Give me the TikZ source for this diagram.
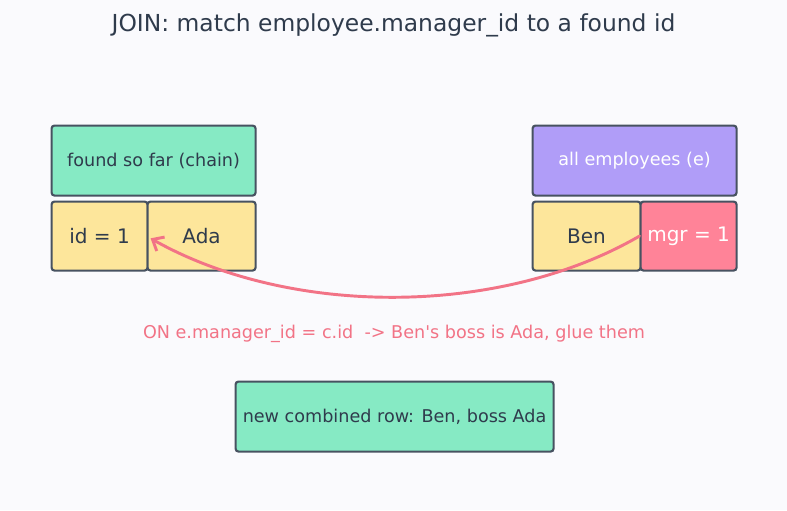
\documentclass[tikz,border=0pt]{standalone}
\usepackage{fontspec}
\setmainfont{DejaVu Sans}
\usetikzlibrary{arrows.meta}
\definecolor{bgc}{HTML}{FAFAFD}
\definecolor{mint}{HTML}{86EAC4}
\definecolor{sand}{HTML}{FDE69B}
\definecolor{lav}{HTML}{B09DF8}
\definecolor{pinkc}{HTML}{FF8398}
\definecolor{edgec}{HTML}{475261}
\definecolor{txt}{HTML}{2F3B4C}
\definecolor{arr}{HTML}{F27386}
\tikzset{
  box/.style={draw=edgec, line width=1.6pt, rounded corners=2.2pt, inner sep=0pt, anchor=north west, font=\fontsize{13.2}{15}\selectfont, text=txt},
  cell/.style={box, font=\fontsize{15}{17}\selectfont},
}
\begin{document}
\begin{tikzpicture}[x=0.75pt,y=-0.75pt]
\fill[bgc] (0,0) rectangle (787,510);
\useasboundingbox (0,0) rectangle (787,510);
\node[text=txt, font=\fontsize{17.55}{20}\selectfont] (title) at (393.5,25.5) {JOIN: match employee.manager\_id to a found id};
\node[box, fill=mint, minimum width=204*0.75pt, minimum height=70*0.75pt] (found) at (50.5,124.5) {found so far (chain)};
\node[cell, fill=sand, minimum width=96*0.75pt, minimum height=69*0.75pt] (id) at (50.5,200.5) {id = 1};
\node[cell, fill=sand, minimum width=108*0.75pt, minimum height=69*0.75pt] (ada) at (146.5,200.5) {Ada};
\node[box, fill=lav, text=white, minimum width=204*0.75pt, minimum height=70*0.75pt] (all) at (531.5,124.5) {all employees (e)};
\node[cell, fill=sand, minimum width=108*0.75pt, minimum height=69*0.75pt] (ben) at (531.5,200.5) {Ben};
\node[cell, fill=pinkc, text=white, minimum width=96*0.75pt, minimum height=69*0.75pt] (mgr) at (639.5,200.5) {mgr = 1};
\draw[arr, line width=2.2pt, line cap=round, -{Straight Barb[length=7pt,width=12pt,line width=2.2pt]}, shorten >=3.5pt]
  (mgr.west) .. controls (500,317) and (290,317) .. (ada.west);
\node[text=arr, font=\fontsize{13.2}{15}\selectfont] (lbl) at (394,333.5) {ON e.manager\_id = c.id\ \ -> Ben\textquotesingle s boss is Ada, glue them};
\node[box, fill=mint, minimum width=318*0.75pt, minimum height=70*0.75pt] (new) at (234.5,380.5) {new combined row: Ben, boss Ada};
\end{tikzpicture}
\end{document}
